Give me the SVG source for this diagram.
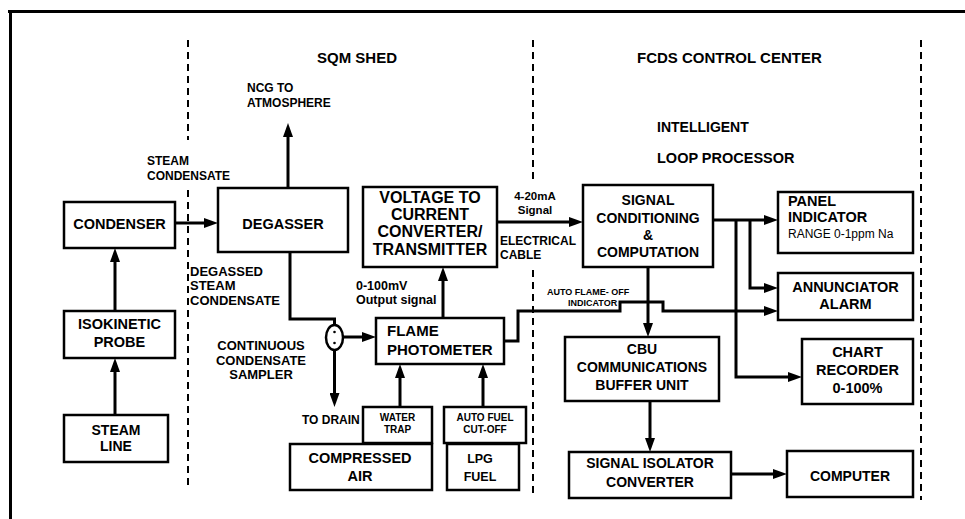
<svg xmlns="http://www.w3.org/2000/svg" width="965" height="519" viewBox="0 0 965 519">
<style>
.box{fill:#fff;stroke:#000;stroke-width:2.5}
.t{font-family:"Liberation Sans",Arial,sans-serif;font-weight:bold;fill:#000}
.r{font-weight:normal}
.c{text-anchor:middle}
.conn{fill:none;stroke:#000;stroke-width:3}
.frame{fill:none;stroke:#000;stroke-width:3}
.dash{fill:none;stroke:#000;stroke-width:2;stroke-dasharray:7 5}
</style>
<defs>
<marker id="ah" viewBox="0 0 14 10" refX="3" refY="5" markerWidth="14" markerHeight="10" markerUnits="userSpaceOnUse" orient="auto">
<path d="M0,0 L14,5 L0,10 z" fill="#000"/>
</marker>
</defs>
<rect width="965" height="519" fill="#fff"/>
<g id="frame">
<path class="frame" d="M8,11.5 H965 M10.5,10 V519"/>
<path class="dash" d="M188,40 V140 M188,190 V490 M533,40 V182 M533,270 V495 M921,40 V500"/>
</g>
<g id="headers" class="t">
<text x="317" y="63" font-size="15">SQM SHED</text>
<text x="637" y="63" font-size="15">FCDS CONTROL CENTER</text>
<text x="657" y="132" font-size="14">INTELLIGENT</text>
<text x="657" y="163" font-size="14.5">LOOP PROCESSOR</text>
</g>
<g id="connectors">
<path class="conn" marker-end="url(#ah)" d="M115,415 V369"/>
<path class="conn" marker-end="url(#ah)" d="M115,311 V259"/>
<path class="conn" marker-end="url(#ah)" d="M175,223 H207"/>
<path class="conn" marker-end="url(#ah)" d="M288,188 V134"/>
<path class="conn" d="M290,252 V319 H334.5 V325"/>
<path class="conn" marker-end="url(#ah)" d="M343,337 H365"/>
<path class="conn" marker-end="url(#ah)" d="M334.5,350 V396"/>
<path class="conn" marker-end="url(#ah)" d="M400,407 V375"/>
<path class="conn" marker-end="url(#ah)" d="M483,407 V375"/>
<path class="conn" marker-end="url(#ah)" d="M443,318 V278"/>
<path class="conn" marker-end="url(#ah)" d="M497,222 H572"/>
<path class="conn" marker-end="url(#ah)" d="M713,220 H767"/>
<path class="conn" marker-end="url(#ah)" d="M750,220 V288 H767"/>
<path class="conn" marker-end="url(#ah)" d="M736,220 V377 H791"/>
<path class="conn" marker-end="url(#ah)" d="M648,267 V326"/>
<path class="conn" marker-end="url(#ah)" d="M650,401 V441"/>
<path class="conn" marker-end="url(#ah)" d="M731,474 H776"/>
<path class="conn" marker-end="url(#ah)" d="M504,341 H518 V311 H620 V302 H663 V311 H767"/>
</g>
<g id="labels" class="t">
<text x="247" y="92" font-size="12">NCG TO</text>
<text x="247" y="107" font-size="12">ATMOSPHERE</text>
<text x="147" y="165" font-size="12">STEAM</text>
<text x="147" y="180" font-size="12">CONDENSATE</text>
<text x="190" y="276" font-size="13">DEGASSED</text>
<text x="190" y="290" font-size="13">STEAM</text>
<text x="190" y="305" font-size="13">CONDENSATE</text>
<text class="c" x="261" y="350" font-size="13">CONTINUOUS</text>
<text class="c" x="261" y="365" font-size="13">CONDENSATE</text>
<text class="c" x="261" y="379" font-size="13">SAMPLER</text>
<text x="302" y="424" font-size="12">TO DRAIN</text>
<text x="356" y="290" font-size="12.5">0-100mV</text>
<text x="356" y="304" font-size="12.5">Output signal</text>
<text class="c" x="535" y="200" font-size="11.5">4-20mA</text>
<text class="c" x="535" y="214" font-size="11.5">Signal</text>
<text x="500" y="245" font-size="12">ELECTRICAL</text>
<text x="500" y="259" font-size="12">CABLE</text>
<text x="547" y="295" font-size="9">AUTO FLAME- OFF</text>
<text x="568" y="306" font-size="9">INDICATOR</text>
</g>
<g id="condenser" class="t">
<rect class="box" x="64" y="202" width="111" height="46"/>
<text class="c" x="119.5" y="229" font-size="14.5">CONDENSER</text>
</g>
<g id="isokinetic-probe" class="t">
<rect class="box" x="64" y="311" width="111" height="47"/>
<text class="c" x="119.5" y="329" font-size="14.5">ISOKINETIC</text>
<text class="c" x="119.5" y="347" font-size="14.5">PROBE</text>
</g>
<g id="steam-line" class="t">
<rect class="box" x="64" y="415" width="104" height="47"/>
<text class="c" x="116" y="435" font-size="14">STEAM</text>
<text class="c" x="116" y="451" font-size="14">LINE</text>
</g>
<g id="degasser" class="t">
<rect class="box" x="218" y="188" width="130" height="64"/>
<text class="c" x="283" y="229" font-size="14.5">DEGASSER</text>
</g>
<g id="sampler">
<ellipse cx="334.5" cy="337.5" rx="8.5" ry="12.5" fill="#fff" stroke="#000" stroke-width="2.5"/>
<circle cx="334.5" cy="332" r="1.3" fill="#000"/>
<circle cx="334.5" cy="343" r="1.3" fill="#000"/>
</g>
<g id="voltage-to-current" class="t">
<rect class="box" x="363" y="187" width="134" height="80"/>
<text class="c" x="430" y="203" font-size="16">VOLTAGE TO</text>
<text class="c" x="430" y="220" font-size="16">CURRENT</text>
<text class="c" x="430" y="237" font-size="16">CONVERTER/</text>
<text class="c" x="430" y="255" font-size="16">TRANSMITTER</text>
</g>
<g id="flame-photometer" class="t">
<rect class="box" x="376" y="318" width="128" height="46"/>
<text x="387" y="336" font-size="15">FLAME</text>
<text x="387" y="355" font-size="15">PHOTOMETER</text>
</g>
<g id="water-trap" class="t">
<rect class="box" x="363" y="407" width="69" height="36"/>
<text class="c" x="397.5" y="421" font-size="10">WATER</text>
<text class="c" x="397.5" y="433" font-size="10">TRAP</text>
</g>
<g id="compressed-air" class="t">
<rect class="box" x="290" y="444" width="142" height="46"/>
<text class="c" x="360" y="463" font-size="14.5">COMPRESSED</text>
<text class="c" x="360" y="481" font-size="14.5">AIR</text>
</g>
<g id="auto-fuel-cutoff" class="t">
<rect class="box" x="444" y="407" width="82" height="36"/>
<text class="c" x="485" y="421" font-size="10">AUTO FUEL</text>
<text class="c" x="485" y="433" font-size="10">CUT-OFF</text>
</g>
<g id="lpg-fuel" class="t">
<rect class="box" x="447" y="444" width="72" height="46"/>
<text class="c" x="480" y="463" font-size="12.5">LPG</text>
<text class="c" x="480" y="481" font-size="12.5">FUEL</text>
</g>
<g id="signal-conditioning" class="t">
<rect class="box" x="583" y="185" width="130" height="82"/>
<text class="c" x="648" y="205" font-size="14">SIGNAL</text>
<text class="c" x="648" y="223" font-size="14">CONDITIONING</text>
<text class="c" x="648" y="240" font-size="14">&amp;</text>
<text class="c" x="648" y="257" font-size="14">COMPUTATION</text>
</g>
<g id="panel-indicator" class="t">
<rect class="box" x="778" y="192" width="135" height="61"/>
<text x="788" y="206" font-size="14.5">PANEL</text>
<text x="788" y="222" font-size="14.5">INDICATOR</text>
<text class="r" x="788" y="238" font-size="12">RANGE 0-1ppm Na</text>
</g>
<g id="annunciator-alarm" class="t">
<rect class="box" x="778" y="273" width="135" height="47"/>
<text class="c" x="845.5" y="292" font-size="14.5">ANNUNCIATOR</text>
<text class="c" x="845.5" y="309" font-size="14.5">ALARM</text>
</g>
<g id="chart-recorder" class="t">
<rect class="box" x="802" y="339" width="111" height="65"/>
<text class="c" x="857.5" y="357" font-size="14.5">CHART</text>
<text class="c" x="857.5" y="375" font-size="14.5">RECORDER</text>
<text class="c" x="857.5" y="393" font-size="14.5">0-100%</text>
</g>
<g id="cbu" class="t">
<rect class="box" x="565" y="337" width="154" height="64"/>
<text class="c" x="642" y="354" font-size="14">CBU</text>
<text class="c" x="642" y="372" font-size="14">COMMUNICATIONS</text>
<text class="c" x="642" y="390" font-size="14">BUFFER UNIT</text>
</g>
<g id="signal-isolator" class="t">
<rect class="box" x="569" y="452" width="162" height="46"/>
<text class="c" x="650" y="468" font-size="14">SIGNAL ISOLATOR</text>
<text class="c" x="650" y="487" font-size="14">CONVERTER</text>
</g>
<g id="computer" class="t">
<rect class="box" x="787" y="451" width="126" height="46"/>
<text class="c" x="850" y="481" font-size="14">COMPUTER</text>
</g>
</svg>
